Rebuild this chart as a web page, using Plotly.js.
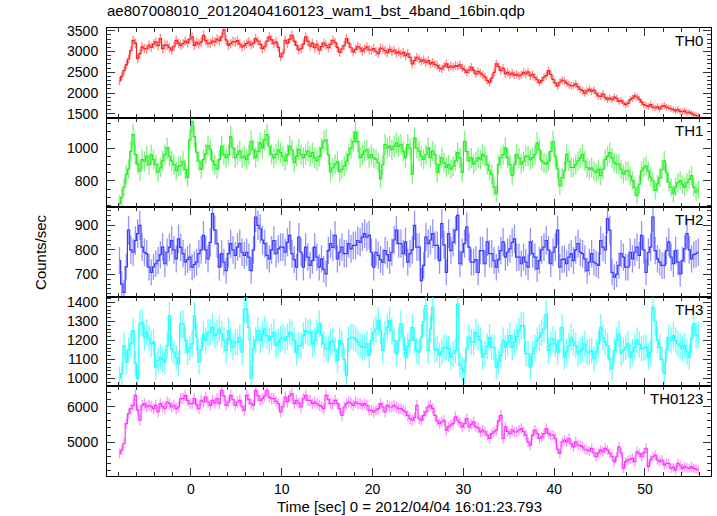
<!DOCTYPE html>
<html><head><meta charset="utf-8">
<script src="https://cdn.plot.ly/plotly-3.0.1.min.js"></script>
<style>html,body{margin:0;padding:0;background:#fff;}#chart{width:717px;height:516px;}</style>
</head><body><div id="chart"></div>
<script>
// 0.25 s bins, first bin centre at -7.875 s
const binStart = -7.875;
const binWidth = 0.25;

const th0 = [
2290,2400,2540,2680, 2820,3020,3270,3200, 2830,2950,3110,3070, 3060,3150,3100,3180,
3230,3140,3310,3070, 3160,3150,3090,3030, 3120,3270,3200,3150, 3190,3250,3210,3300,
3350,3150,3220,3180, 3230,3390,3260,3190, 3200,3250,3230,3300, 3260,3350,3520,3280,
3150,3190,3240,3230, 3260,3180,3110,3150, 3190,3230,3160,3200, 3310,3250,3170,3070,
3120,3250,3350,3280, 3190,3230,3100,2870, 2960,3270,3200,3300, 3390,3250,3150,3040,
3070,3180,3350,3250, 3130,3200,3090,3170, 3030,3120,3200,3150, 3090,3180,3270,3220,
3100,2980,3060,3140, 3310,3200,3090,2990, 3050,3120,3080,3010, 3060,3110,3040,3030,
3070,3000,2950,3080, 3060,3020,2970,3050, 3000,3030,2960,2990, 2940,2980,2900,2950,
2860,2700,2780,2860, 2820,2760,2800,2740, 2780,2700,2740,2690, 2660,2600,2580,2640,
2700,2620,2650,2620, 2660,2640,2680,2600, 2560,2500,2560,2620, 2550,2460,2520,2480,
2440,2390,2300,2250, 2360,2500,2700,2640, 2540,2600,2460,2500, 2440,2480,2430,2450,
2410,2440,2500,2460, 2510,2410,2450,2380, 2320,2250,2300,2380, 2420,2540,2450,2330,
2240,2170,2260,2310, 2290,2240,2200,2170, 2180,2220,2150,2090, 2060,2000,2050,2090,
2040,2070,1990,1930, 1920,1980,1890,1850, 1880,1840,1900,1870, 1800,1820,1760,1720,
1750,1840,1880,1930, 1900,1850,1780,1720, 1700,1680,1720,1660, 1640,1670,1620,1680,
1700,1660,1640,1620, 1600,1570,1600,1560, 1550,1570,1520,1540, 1510,1480,1460,1450
];

const th1 = [
662,700,762,840, 872,980,1082,960, 902,860,930,920, 952,900,960,930,
900,855,880,922, 960,1002,950,922, 900,862,890,892, 920,870,822,1050,
1162,1070,975,920, 870,930,965,1015, 990,922,900,872, 930,1012,960,942,
960,1070,1000,942, 960,982,940,952, 930,960,1042,990, 942,980,1032,1000,
1050,1082,1010,962, 940,962,990,972, 950,922,960,1012, 990,912,950,992,
960,942,960,982, 950,972,940,922, 950,1000,1042,1050, 960,855,880,902,
920,855,870,892, 920,962,1000,1040, 1096,1040,942,960, 982,990,942,960,
940,932,912,812, 900,1022,1000,1012, 990,1012,1032,1010, 1022,982,942,1022,
1000,842,1062,1000, 982,950,932,960, 1002,942,982,960, 852,900,942,910,
882,900,872,890, 922,972,940,852, 1042,980,922,940, 902,920,942,930,
962,950,900,862, 840,762,722,900, 942,960,1002,940, 900,832,900,962,
940,902,920,950, 952,930,942,960, 1032,990,922,910, 902,920,980,1042,
950,872,772,820, 862,962,920,882, 882,900,922,940, 962,920,882,870,
880,862,850,872, 832,870,932,950, 972,940,912,902, 902,870,842,860,
862,830,802,760, 712,780,862,880, 892,860,822,800, 742,782,820,870,
922,850,792,760, 722,762,790,802, 780,762,790,810, 832,762,732,750
];

const th2 = [
756,660,626,730, 880,800,790,838, 866,900,811,790, 784,729,708,730,
743,756,780,811, 743,790,810,838, 800,763,845,810, 784,750,760,770,
729,740,750,784, 800,859,800,763, 830,948,880,825, 729,784,750,715,
784,825,800,777, 811,825,790,777, 790,770,715,800, 934,900,886,840,
825,777,763,800, 838,784,804,811, 811,790,830,859, 784,760,729,852,
790,729,811,770, 736,756,811,770, 729,763,720,702, 797,825,810,859,
763,790,811,784, 784,825,804,818, 818,838,830,852, 866,852,860,790,
729,790,777,760, 750,797,780,756, 790,840,880,825, 825,784,832,750,
784,800,900,811, 811,674,736,852, 825,840,866,818, 818,756,907,820,
708,866,797,830, 880,941,743,790, 825,893,811,750, 750,760,708,797,
797,743,832,784, 784,756,729,760, 797,832,770,790, 804,830,845,770,
770,743,770,750, 729,832,784,770, 722,756,800,811, 838,800,743,790,
811,880,729,760, 763,743,770,784, 756,800,825,790, 784,763,715,750,
784,750,743,736, 838,811,800,927, 880,708,688,700, 736,784,770,729,
729,790,763,790, 811,777,859,800, 708,790,811,934, 797,763,750,736,
736,797,832,770, 743,797,750,702, 756,804,866,800, 763,780,784,790
];

const th3 = [
1000,1025,1173,1086, 1150,1182,1252,1080, 1000,1287,1295,1217, 1243,1210,1182,1191,
1060,1095,1112,1100, 1086,1173,1330,1156, 1138,1110,1077,1287, 1287,1200,1138,1160,
1182,1330,1217,1086, 1150,1234,1200,1243, 1243,1269,1226,1240, 1260,1234,1200,1147,
1252,1200,1164,1191, 1191,1217,1138,1365, 1365,1269,1000,1156, 1200,1252,1200,1230,
1260,1226,1200,1220, 1243,1173,1190,1208, 1217,1200,1220,1243, 1234,1200,1138,1173,
1173,1226,1252,1243, 1243,1182,1200,1240, 1287,1230,1182,1156, 1156,1191,1200,1150,
1095,1200,1182,1100, 1016,1208,1217,1217, 1208,1190,1173,1164, 1164,1182,1121,1200,
1243,1260,1304,1250, 1147,1234,1270,1304, 1250,1200,1130,1200, 1287,1217,1112,1170,
1200,1269,1200,1147, 1138,1217,1300,1383, 1147,1260,1374,1147, 1156,1121,1140,1164,
1164,1156,1112,1130, 1147,1392,1069,1050, 1034,1156,1217,1191, 1191,1243,1220,1200,
1112,1130,1170,1217, 1164,1164,1060,1090, 1121,1200,1164,1190, 1226,1164,1191,1220,
1252,1278,1278,1130, 1130,1060,1130,1160, 1200,1217,1240,1260, 1339,1147,1180,1208,
1182,1138,1200,1269, 1112,1140,1173,1217, 1190,1173,1130,1145, 1156,1182,1138,1140,
1147,1103,1140,1182, 1269,1217,1190,1173, 1100,1051,1147,1200, 1234,1130,1150,1164,
1182,1112,1140,1164, 1200,1180,1156,1160, 1164,1112,1138,1374, 1300,1200,1164,1100,
1025,1150,1217,1200, 1226,1200,1182,1170, 1156,1173,1140,1112, 1208,1287,1226,1230
];

const th0123 = [
4683,4776,4963,5523, 5803,5943,6037,6317, 5900,5616,6037,6083, 5990,6037,6000,5943,
6037,5850,6083,6000, 5943,6130,6083,5990, 6037,5943,5990,6223, 6223,6317,6177,6083,
6083,6223,6050,5943, 6177,6130,6270,6130, 6037,6177,6100,6223, 6083,6457,6300,6037,
6130,6317,6200,6037, 6130,6177,6000,5896, 6317,6200,6083,6037, 6457,6300,6177,6223,
6300,6457,6270,6223, 6223,6150,6083,5850, 6000,6270,6130,6300, 6363,6083,6177,6100,
5990,6223,6317,6177, 6177,6083,6130,6083, 6037,6000,5943,6317, 6200,6083,6083,6177,
6083,5943,5756,5990, 6083,6130,6100,6037, 6130,6083,6083,6037, 6083,6037,5896,5896,
5850,5900,5943,6083, 5990,5850,6037,5990, 5990,6037,5990,5943, 5943,5896,5850,5750,
5663,5616,5700,6037, 5663,5616,5750,5850, 5990,6037,5950,5756, 5600,5523,5570,5616,
5336,5430,5480,5523, 5710,5616,5550,5430, 5520,5663,5430,5500, 5570,5430,5400,5290,
5336,5290,5200,5103, 5243,5290,5336,5600, 5756,5103,5430,5300, 5243,5336,5290,5290,
5336,5383,5300,5196, 5000,4916,5200,5336, 5243,5103,5150,5243, 5383,5243,5200,5196,
5103,4800,4683,5000, 5056,5009,5103,4950, 4869,5009,4916,4900, 4869,4800,4776,4750,
4823,4700,4589,4700, 4776,4729,4823,4780, 4683,4600,4450,4589, 4869,4700,4263,4450,
4496,4520,4543,4450, 4729,4680,4589,4700, 4823,4309,4500,4589, 4636,4500,4450,4496,
4356,4400,4403,4263, 4300,4216,4403,4350, 4263,4309,4280,4263, 4309,4263,4240,4216
];

const panelNames = ["TH0", "TH1", "TH2", "TH3", "TH0123"];
const panelSeries = [th0, th1, th2, th3, th0123];
const panelColors = ["#ff2020", "#22ee22", "#3a3aff", "#22ffff", "#ff33ff"];
const errColors = ["rgba(255,40,40,0.55)", "rgba(40,235,40,0.6)", "rgba(60,60,255,0.55)", "rgba(40,255,255,0.7)", "rgba(255,60,255,0.55)"];
const yRanges = [[1409, 3566], [640, 1186], [608, 974], [958, 1430], [4048, 6569]];
const yDticks = [500, 200, 100, 100, 1000];
const yMinor = [100, 50, 20, 20, 200];
const xRange = [-9.25, 57.27];

const fontFam = '"Liberation Sans", Arial, Helvetica, sans-serif';
const time = th0.map((_, i) => binStart + i * binWidth);
const poissonErr = v => Math.sqrt(v * binWidth) / binWidth;

const traces = [];
const layout = {
  width: 717, height: 516,
  margin: {l: 107, r: 6, t: 28, b: 40, pad: 0},
  paper_bgcolor: "#fff", plot_bgcolor: "#fff",
  showlegend: false,
  font: {family: fontFam, size: 14, color: "#000"},
  title: {text: "ae807008010_20120404160123_wam1_bst_4band_16bin.qdp",
          xref: "paper", x: 0, xanchor: "left",
          yref: "container", y: 0.979, yanchor: "middle",
          font: {family: fontFam, size: 15, color: "#000"}},
  annotations: []
};

const tickStyle = {
  ticks: "inside", ticklen: 8, tickwidth: 1, tickcolor: "#333",
  showline: true, linecolor: "#000", linewidth: 1, mirror: "allticks",
  showgrid: false, zeroline: false,
  tickfont: {family: fontFam, size: 14, color: "#000"}
};

panelSeries.forEach((s, i) => {
  const n = i + 1;
  const xa = n === 1 ? "x" : "x" + n;
  const ya = n === 1 ? "y" : "y" + n;
  traces.push({
    type: "scatter", mode: "lines",
    x: time, y: s, xaxis: xa, yaxis: ya,
    line: {shape: "hvh", width: 1.2, color: panelColors[i]},
    error_y: {type: "data", array: s.map(poissonErr), width: 0, thickness: 1.3, color: errColors[i]},
    hoverinfo: "skip"
  });
  const top = 1 - i / 5, bot = 1 - (i + 1) / 5;
  layout["yaxis" + (n === 1 ? "" : n)] = Object.assign({}, tickStyle, {
    domain: [bot, top], range: yRanges[i], dtick: yDticks[i], tick0: 0,
    anchor: xa, ticklabelstandoff: 5,
    minor: {ticks: "inside", dtick: yMinor[i], tick0: 0, ticklen: 4, tickwidth: 1, tickcolor: "#333"}
  });
  layout["xaxis" + (n === 1 ? "" : n)] = Object.assign({}, tickStyle, {
    range: xRange, dtick: 10, tick0: 0, anchor: ya,
    showticklabels: n === 5, ticklabelstandoff: 0,
    matches: n === 1 ? undefined : "x",
    minor: {ticks: "inside", dtick: 2, tick0: 0, ticklen: 4, tickwidth: 1, tickcolor: "#333"}
  });
  layout.annotations.push({
    text: panelNames[i], xref: "paper", yref: "paper", x: 1, y: top,
    xanchor: "right", yanchor: "top", xshift: -6, yshift: -2, showarrow: false,
    font: {family: fontFam, size: 15, color: "#000"}
  });
});

layout.annotations.push({
  text: "Counts/sec", xref: "paper", yref: "paper", x: -0.111, y: 0.5,
  xanchor: "center", yanchor: "middle", textangle: -90, showarrow: false,
  font: {family: fontFam, size: 15, color: "#000"}
});
layout.annotations.push({
  text: "Time [sec] 0 = 2012/04/04 16:01:23.793", xref: "paper", yref: "paper",
  x: 0.5, y: -0.067, xanchor: "center", yanchor: "middle", showarrow: false,
  font: {family: fontFam, size: 15, color: "#000"}
});

Plotly.newPlot("chart", traces, layout, {staticPlot: true, displayModeBar: false});
</script>
</body></html>
